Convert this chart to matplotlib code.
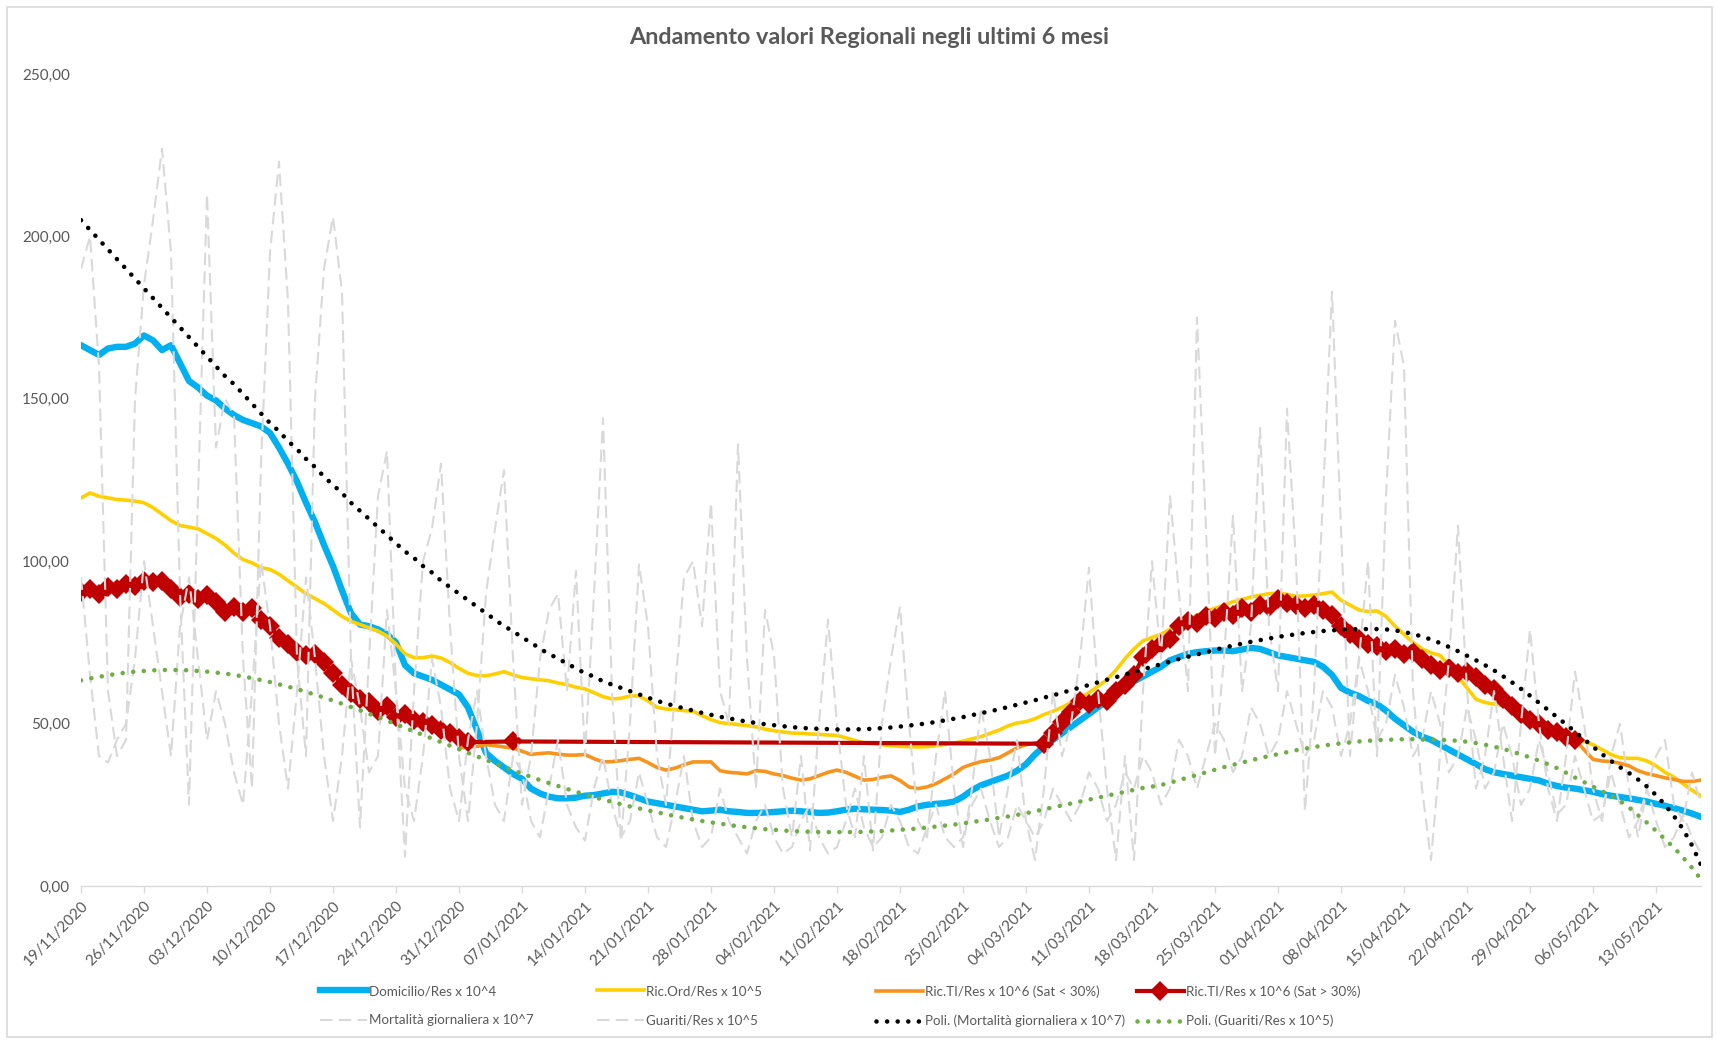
import numpy as np
import matplotlib
matplotlib.use("Agg")
import matplotlib.pyplot as plt
from matplotlib.lines import Line2D
from matplotlib.patches import Rectangle
from matplotlib.ticker import FuncFormatter

plt.rcParams["font.family"] = ["Lato", "DejaVu Sans"]

NaN = np.nan

# Daily categories: 19/11/2020 .. 18/05/2021, labels every 7 days
tick_labels = [
    "19/11/2020", "26/11/2020", "03/12/2020", "10/12/2020", "17/12/2020",
    "24/12/2020", "31/12/2020", "07/01/2021", "14/01/2021", "21/01/2021",
    "28/01/2021", "04/02/2021", "11/02/2021", "18/02/2021", "25/02/2021",
    "04/03/2021", "11/03/2021", "18/03/2021", "25/03/2021", "01/04/2021",
    "08/04/2021", "15/04/2021", "22/04/2021", "29/04/2021", "06/05/2021",
    "13/05/2021",
]
n_days = 181

domicilio = [
    166.5, 165, 163.5, 165.5, 166, 166, 167,
    169.5, 168, 165, 166.5, 161, 155.5, 153.5,
    151, 149.5, 147, 145, 143.5, 142.5, 141.5,
    139.5, 135, 130, 124.5, 118, 112, 105,
    98.5, 91, 84, 80.5, 80, 79, 77.5,
    75, 68, 65.5, 64.5, 63.5, 62, 60.5,
    59, 55, 48, 41, 38.5, 36.5, 34.5,
    33, 30, 28.5, 27.5, 27, 27, 27.2,
    27.8, 28, 28.5, 29, 28.8, 28, 27,
    26, 25.5, 25, 24.5, 24, 23.5, 23,
    23.2, 23.5, 23, 22.8, 22.5, 22.5, 22.6,
    22.8, 23, 23.2, 23, 22.8, 22.5, 22.6,
    23, 23.5, 23.8, 23.6, 23.5, 23.4, 23.2,
    22.8, 23.5, 24.5, 25, 25.3, 25.5, 26,
    27.5, 29.5, 31, 32, 33, 34, 35.5,
    37.5, 40.5, 43, 45, 47, 49, 51,
    53, 55, 57, 59, 61, 63, 64.5,
    66, 67.5, 69.5, 70.5, 71.5, 72, 72.3,
    72.5, 72.5, 72.3, 72.8, 73.3, 73, 72,
    71, 70.5, 70, 69.5, 69, 67.5, 65,
    61, 59.5, 58.5, 57, 56, 54, 51.5,
    49.5, 47.5, 46, 45, 43.5, 42, 40.5,
    39, 37.5, 36, 35, 34.5, 34, 33.5,
    33, 32.5, 31.5, 30.8, 30.3, 30, 29.5,
    29, 28.3, 27.8, 27.4, 27, 26.5, 26,
    25.3, 24.7, 24, 23.2, 22.3, 21.3,
]

ric_ord = [
    119.5, 121, 120, 119.5, 119, 118.8, 118.5,
    118, 116.5, 114.5, 112.5, 111, 110.5, 110,
    108.5, 107, 105, 102.5, 100.5, 99.5, 98,
    97.5, 96, 94, 92, 90, 88.5, 87,
    85, 83, 81.5, 80.5, 79.5, 78.5, 77,
    74.5, 71.5, 70.3, 70.3, 70.8, 70.2, 68.8,
    67, 65.5, 64.8, 64.7, 65.3, 66, 65,
    64.2, 63.8, 63.5, 63.2, 62.5, 62, 61.2,
    60.7, 59.5, 58.3, 57.6, 57.8, 58.5, 58.5,
    57, 55, 54.5, 54.3, 54, 53.8, 52.5,
    51.2, 50.3, 50, 49.7, 49.4, 49, 48.3,
    47.8, 47.4, 47.1, 47, 46.8, 46.7, 46.5,
    46.4, 45.6, 44.8, 44.1, 43.8, 43.5, 43.2,
    43, 42.9, 42.8, 42.9, 43.2, 43.6, 44,
    44.6, 45.3, 46, 47, 48, 49.3, 50.2,
    50.6, 51.5, 52.8, 53.8, 55, 56.5, 58,
    59.5, 61.5, 63.5, 66.5, 70, 73, 75.5,
    76.5, 77.5, 79, 80.5, 82, 83.4, 84.5,
    85.5, 86.5, 87.5, 88.2, 89, 89.5, 90,
    90.2, 89.8, 89.2, 89.3, 89.6, 90, 90.5,
    88, 86.5, 85, 84.5, 84.7, 83, 80,
    77.5, 75, 73, 71.8, 71, 68, 64.5,
    61, 57.5, 56.5, 56, 55.7, 54.5, 53,
    51.5, 50, 48.5, 47.3, 46.2, 45.3, 44.6,
    43.5, 42, 40.5, 39.5, 39.3, 39.3, 38.5,
    37, 35, 33.5, 31.5, 29.5, 27.7,
]

ric_ti_low = (
    [NaN] * 42
    + [
        42.5, 42.8, 43, 43.5, 43.2, 42.8, 42.5,
        41.5, 40.5, 40.8, 41, 40.6, 40.3, 40.3,
        40.5, 39.2, 38.2, 38.3, 38.6, 39, 39.3,
        38, 36.5, 35.7, 36.3, 37.3, 38.2, 38.2,
        38.2, 35.5, 35, 34.8, 34.5, 35.5, 35.3,
        34.5, 34, 33.2, 32.6, 33, 34, 35,
        35.7, 35, 33.8, 32.6, 32.8, 33.5, 33.9,
        32.5, 30.5, 30, 30.5, 31.5, 33, 34.5,
        36.5, 37.5, 38.3, 38.8, 39.5, 41, 42.5,
        43.5, 44,
    ]
    + [NaN] * 59
    + [45, 42, 39, 38.5, 38.3, 37.8, 37, 35.5, 34.6, 34, 33.3, 32.8, 32.2, 32.2, 32.6]
)

ric_ti_high = (
    [
        90.5, 91.5, 90, 92, 91.5, 93, 92.5,
        94, 93.5, 94, 91.5, 89, 90, 88.5,
        89.5, 87.5, 84.5, 86, 84.5, 85.5, 82,
        80, 76.5, 74.5, 72, 71, 71.5, 69,
        65.5, 62, 59.5, 57.5, 56.5, 54, 55.5,
        52, 53, 51, 50.5, 49.5, 48, 47,
        45.5, 44.3,
    ]
    + [NaN] * 4
    + [44.5]
    + [NaN] * 58
    + [
        43.8, 47, 50.5, 53.5, 57, 56, 57.5,
        57, 60, 62, 65, 70.5, 73, 74.5,
        76, 80, 81.5, 81, 83, 82.5, 84.5,
        83.5, 85.5, 84.5, 86.5, 86, 88.5, 87,
        86.5, 85.5, 86.5, 85, 83.5, 80, 77.5,
        76, 74.5, 74, 72.5, 73, 71.5, 72,
        70, 68, 66.5, 67, 65.5, 66, 64.5,
        62, 60.5, 57.5, 55.5, 53, 51, 50,
        48, 47.5, 46, 45,
    ]
    + [NaN] * 14
)

mortalita = [
    190, 200, 160, 60, 40, 45, 150,
    185, 205, 227, 195, 90, 25, 120,
    213, 135, 150, 145, 70, 30, 130,
    195, 223, 180, 70, 40, 150, 190,
    206, 183, 70, 18, 70, 120, 134,
    60, 9, 60, 100, 110, 130, 80,
    40, 20, 50, 90, 110, 128, 70,
    25, 40, 70, 85, 90, 60, 97,
    40, 90, 144, 60, 14, 50, 99,
    80, 40, 25, 60, 95, 100, 80,
    118, 60, 50, 136, 70, 30, 85,
    71, 30, 15, 40, 11, 50, 82,
    50, 25, 15, 40, 11, 50, 70,
    86, 50, 20, 15, 40, 60, 30,
    12, 30, 55, 40, 15, 30, 45,
    20, 8, 30, 60, 40, 50, 70,
    98, 60, 30, 8, 40, 8, 60,
    100, 70, 120, 90, 60, 175, 110,
    40, 70, 114, 60, 80, 141, 80,
    60, 147, 100, 23, 60, 120, 183,
    110, 40, 70, 100, 40, 120, 174,
    160, 60, 30, 8, 40, 70, 111,
    60, 30, 40, 60, 40, 20, 50,
    79, 50, 30, 20, 40, 66, 50,
    30, 20, 40, 50, 30, 15, 30,
    40, 45, 25, 20, 35, 25,
]

guariti = [
    95, 65, 40, 38, 45, 50, 70,
    100, 80, 60, 40, 80, 95, 70,
    45, 60, 50, 35, 25, 60, 100,
    80, 50, 30, 60, 95, 70, 40,
    20, 40, 70, 55, 35, 40, 85,
    60, 30, 20, 40, 70, 55, 30,
    20, 45, 60, 40, 25, 20, 40,
    35, 20, 15, 30, 45, 25, 18,
    14, 30, 40, 25, 15, 20, 35,
    25, 15, 12, 25, 40, 20, 12,
    15, 30, 20, 15, 10, 20, 25,
    15, 10, 12, 20, 25, 15, 10,
    12, 20, 30, 18, 12, 15, 25,
    20, 12, 10, 18, 25, 15, 12,
    15, 25, 30, 20, 12, 15, 25,
    20, 15, 20, 30, 25, 20, 25,
    35, 30, 20, 25, 35, 30, 40,
    35, 25, 30, 45, 40, 30, 40,
    50, 45, 35, 40, 55, 50, 40,
    45, 60, 50, 40, 45, 60, 55,
    40, 50, 70, 60, 45, 50, 65,
    55, 40, 45, 60, 50, 35, 40,
    55, 45, 30, 35, 50, 40, 25,
    30, 45, 35, 22, 25, 40, 30,
    20, 22, 35, 25, 15, 20, 30,
    20, 12, 15, 22, 15, 10,
]

# Polynomial trend lines (as plotted by the spreadsheet)
poli_mortalita = [
    205, 202, 199, 196, 193, 190, 187,
    184, 181, 178, 175, 172, 169, 166,
    163, 160, 157, 154.5, 151.5, 148.5, 145.5,
    142.5, 140, 137, 134.5, 131.5, 129, 126,
    123.5, 121, 118, 115.5, 113, 110.5, 108,
    105.5, 103, 101, 98.5, 96.5, 94, 92,
    90, 88, 86, 84, 82, 80, 78.5,
    76.5, 75, 73, 71.5, 70, 68.5, 67,
    65.5, 64.5, 63, 62, 61, 60, 59,
    58, 57, 56.2, 55.4, 54.7, 54, 53.3,
    52.7, 52.1, 51.6, 51.1, 50.6, 50.2, 49.8,
    49.5, 49.2, 48.9, 48.7, 48.5, 48.4, 48.3,
    48.2, 48.2, 48.2, 48.3, 48.4, 48.6, 48.8,
    49.1, 49.4, 49.7, 50.1, 50.5, 51, 51.5,
    52, 52.6, 53.2, 53.8, 54.4, 55.1, 55.8,
    56.5, 57.2, 58, 58.7, 59.5, 60.3, 61.1,
    61.9, 62.7, 63.5, 64.3, 65.1, 65.9, 66.7,
    67.5, 68.3, 69.1, 69.9, 70.6, 71.3, 72,
    72.7, 73.4, 74, 74.6, 75.2, 75.7, 76.2,
    76.7, 77.1, 77.5, 77.9, 78.2, 78.5, 78.7,
    78.9, 79, 79.1, 79.1, 79.1, 79, 78.7,
    78.2, 77.6, 76.8, 75.9, 74.8, 73.6, 72.3,
    70.9, 69.5, 68, 66.4, 64.6, 62.7, 60.7,
    58.6, 56.4, 54.2, 52, 49.8, 47.5, 45.2,
    42.9, 40.6, 38.5, 36.6, 34.8, 32.8, 30.6,
    28, 25, 21.5, 17.5, 12.5, 6.5,
]

poli_guariti = [
    63.3, 63.9, 64.4, 64.9, 65.3, 65.7, 66,
    66.2, 66.4, 66.5, 66.5, 66.5, 66.4, 66.2,
    66, 65.7, 65.4, 65, 64.5, 64, 63.4,
    62.8, 62.1, 61.4, 60.6, 59.8, 58.9, 58,
    57.1, 56.1, 55.1, 54.1, 53, 52, 50.9,
    49.8, 48.7, 47.6, 46.5, 45.4, 44.3, 43.2,
    42.1, 41, 39.9, 38.8, 37.7, 36.7, 35.6,
    34.6, 33.6, 32.6, 31.7, 30.8, 29.9, 29,
    28.2, 27.4, 26.6, 25.9, 25.2, 24.5, 23.9,
    23.3, 22.7, 22.1, 21.5, 21, 20.5, 20,
    19.6, 19.2, 18.8, 18.4, 18.1, 17.8, 17.5,
    17.3, 17.1, 16.9, 16.8, 16.7, 16.6, 16.6,
    16.6, 16.6, 16.6, 16.7, 16.8, 16.9, 17.1,
    17.3, 17.5, 17.7, 18, 18.3, 18.6, 18.9,
    19.3, 19.7, 20.1, 20.5, 21, 21.4, 21.9,
    22.4, 23, 23.6, 24.2, 24.8, 25.4, 26,
    26.6, 27.2, 27.8, 28.4, 29, 29.6, 30.2,
    30.6, 31.1, 31.8, 32.6, 33.4, 34.2, 35,
    35.8, 36.6, 37.3, 38, 38.7, 39.4, 40,
    40.6, 41.2, 41.8, 42.3, 42.8, 43.2, 43.6,
    43.9, 44.2, 44.5, 44.7, 44.9, 45, 45.1,
    45.2, 45.2, 45.1, 45, 45, 44.9, 44.7,
    44.4, 44, 43.5, 42.9, 42.2, 41.4, 40.5,
    39.6, 38.6, 37.5, 36.3, 34.9, 33.4, 32,
    30.6, 29.2, 27.8, 26.2, 24.2, 21.8, 19.5,
    17, 14.4, 11.8, 8.8, 5.6, 2,
]

series = [domicilio, ric_ord, ric_ti_low, ric_ti_high, mortalita, guariti,
          poli_mortalita, poli_guariti]
assert all(len(s) == n_days for s in series), [len(s) for s in series]

# ---- style ----
TXT = "#595959"
GRID = "#D9D9D9"
C_DOM = "#00B0F0"
C_ORD = "#FFD000"
C_TIL = "#F7941D"
C_TIH = "#C00000"
C_GREY = "#D9D9D9"
C_POLM = "#000000"
C_POLG = "#70AD47"

W, H = 1717, 1040
fig = plt.figure(figsize=(W / 100, H / 100), dpi=100)
ax = fig.add_axes([81 / W, 1 - 886 / H, (1701 - 81) / W, (886 - 74) / H])

x = np.arange(n_days)

ax.plot(x, domicilio, color=C_DOM, lw=4.6, solid_joinstyle="round", zorder=3)
ax.plot(x, ric_ord, color=C_ORD, lw=2.6, solid_joinstyle="round", zorder=3)
ax.plot(x, np.array(ric_ti_low), color=C_TIL, lw=2.6, solid_joinstyle="round", zorder=3)
hi = np.array(ric_ti_high)
ok = ~np.isnan(hi)
ax.plot(x[ok], hi[ok], color=C_TIH, lw=3.0, marker="D", markersize=10,
        markeredgewidth=0, zorder=3)

dash = (0, (6, 3))
ax.plot(x, mortalita, color=C_GREY, lw=1.5, linestyle=dash, zorder=4)
ax.plot(x, guariti, color=C_GREY, lw=1.5, linestyle=dash, zorder=4)

dots = (0, (0.01, 2.3))
ax.plot(x, poli_mortalita, color=C_POLM, lw=3.3, linestyle=dots,
        dash_capstyle="round", zorder=5)
ax.plot(x, poli_guariti, color=C_POLG, lw=3.3, linestyle=dots,
        dash_capstyle="round", zorder=5)

ax.set_xlim(0, n_days - 1)
ax.set_ylim(0, 250)
ax.set_yticks([0, 50, 100, 150, 200, 250])
ax.yaxis.set_major_formatter(FuncFormatter(lambda v, p: f"{v:.2f}".replace(".", ",")))
ax.set_xticks(x[::7])
ax.set_xticklabels(tick_labels, rotation=45, ha="right", va="top",
                   rotation_mode="anchor")
for sp in ("top", "right", "left"):
    ax.spines[sp].set_visible(False)
ax.spines["bottom"].set_color(GRID)
ax.spines["bottom"].set_linewidth(1)
ax.tick_params(axis="x", color=GRID, labelcolor=TXT, length=5, width=1,
               direction="out", pad=4, labelsize=11)
ax.tick_params(axis="y", length=0, pad=8, labelcolor=TXT, labelsize=11)

fig.text(869.5 / W, 1 - 38 / H, "Andamento valori Regionali negli ultimi 6 mesi",
         ha="center", va="center", fontsize=16.8, fontweight="bold", color=TXT)

# chart border
fig.patches.append(Rectangle((7 / W, 3 / H), (W - 12) / W, (H - 10) / H,
                             transform=fig.transFigure, fill=False,
                             ec=GRID, lw=1.2))

# legend, four columns of two rows
LEG_FS = 9.6
cols = [
    (320, [Line2D([], [], color=C_DOM, lw=4.6), "Domicilio/Res x 10^4"],
          [Line2D([], [], color=C_GREY, lw=1.5, linestyle=dash), "Mortalità giornaliera x 10^7"]),
    (597, [Line2D([], [], color=C_ORD, lw=2.6), "Ric.Ord/Res x 10^5"],
          [Line2D([], [], color=C_GREY, lw=1.5, linestyle=dash), "Guariti/Res x 10^5"]),
    (876, [Line2D([], [], color=C_TIL, lw=2.6), "Ric.TI/Res x 10^6 (Sat < 30%)"],
          [Line2D([], [], color=C_POLM, lw=3.3, linestyle=dots, dash_capstyle="round"),
           "Poli. (Mortalità giornaliera x 10^7)"]),
    (1137, [Line2D([], [], color=C_TIH, lw=3.0, marker="D", markersize=10,
                   markeredgewidth=0), "Ric.TI/Res x 10^6 (Sat > 30%)"],
           [Line2D([], [], color=C_POLG, lw=3.3, linestyle=dots, dash_capstyle="round"),
            "Poli. (Guariti/Res x 10^5)"]),
]
for cx, e1, e2 in cols:
    leg = fig.legend([e1[0], e2[0]], [e1[1], e2[1]], loc="upper left",
                     bbox_to_anchor=(cx / W, 1 - 985 / H), frameon=False,
                     fontsize=LEG_FS, handlelength=3.5, handletextpad=0.15,
                     borderpad=0, borderaxespad=0, labelspacing=1.3,
                     numpoints=1)
    for t in leg.get_texts():
        t.set_color(TXT)

fig.savefig("out.png", dpi=100, facecolor="white")
